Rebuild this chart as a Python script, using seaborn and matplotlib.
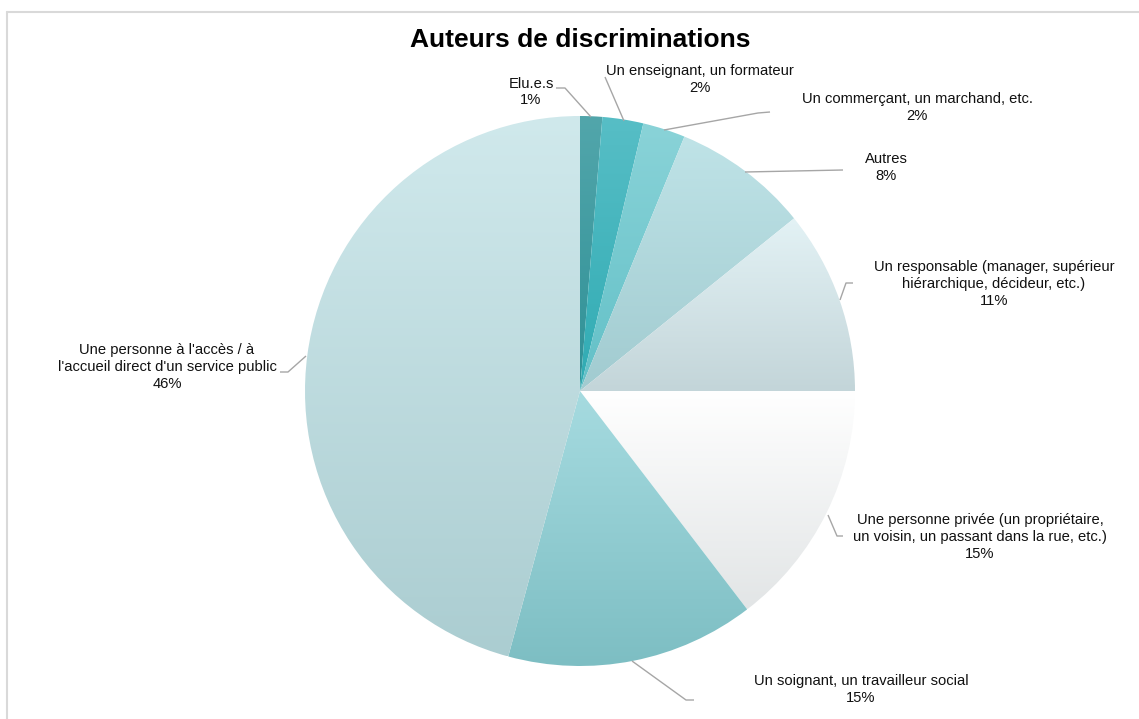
import numpy as np
import matplotlib
matplotlib.use("Agg")
import matplotlib.pyplot as plt
from matplotlib.colors import to_rgb
import seaborn as sns

sns.set_theme(style="white")
plt.rcParams["font.family"] = ["Liberation Sans", "DejaVu Sans"]

# Who committed the discrimination (share of answers, %)
categories = [
    "Elu.e.s",
    "Un enseignant, un formateur",
    "Un commerçant, un marchand, etc.",
    "Autres",
    "Un responsable (manager, supérieur\nhiérarchique, décideur, etc.)",
    "Une personne privée (un propriétaire,\nun voisin, un passant dans la rue, etc.)",
    "Un soignant, un travailleur social",
    "Une personne à l'accès / à\nl'accueil direct d'un service public",
]
shares = [1.3, 2.4, 2.5, 8.0, 10.8, 14.6, 14.6, 45.8]

# vertical gradient of each slice: (top colour, bottom colour)
top_colors = ["#52a6ab", "#57bec6", "#8ad3d8", "#bfe3e7",
              "#e3f2f5", "#ffffff", "#a6dbe0", "#d0e9ec"]
bottom_colors = ["#2f9096", "#30abb3", "#62c0c7", "#a1cbd0",
                 "#c3d5d9", "#e2e5e6", "#7dbec3", "#abcdd1"]

W, H = 1139, 719
fig = plt.figure(figsize=(W / 100, H / 100), dpi=100)
ax = fig.add_axes([0, 0, 1, 1])


def py(y):
    """Convert a top-down pixel row to the upward data axis."""
    return H - y


center = (580, py(391))
radius = 275

wedges, _ = ax.pie(shares, startangle=90, counterclock=False,
                   center=center, radius=radius,
                   wedgeprops=dict(linewidth=0, edgecolor="none"))

# paint each wedge with its own top-to-bottom gradient
for w, ct, cb in zip(wedges, top_colors, bottom_colors):
    w.set_facecolor("none")
    ext = w.get_path().get_extents(w.get_patch_transform())
    t = np.linspace(0, 1, 256)[:, None]
    grad = (1 - t) * np.array(to_rgb(cb)) + t * np.array(to_rgb(ct))
    img = ax.imshow(grad[:, None, :], origin="lower", aspect="auto",
                    extent=(ext.x0, ext.x1, ext.y0, ext.y1),
                    interpolation="bilinear", zorder=1)
    img.set_clip_path(w)

# label anchors (x, centre of text block) and leader lines
label_pos = [(531, 92), (700, 79.5), (917, 107.5), (886, 167.5),
             (994, 284), (980, 537), (861, 689.5), (167, 367)]
leaders = [
    [(556, 88), (565, 88), (591, 117)],
    [(605, 77), (624, 121)],
    [(770, 112), (758, 113), (664, 130)],
    [(843, 170), (745, 172)],
    [(853, 283), (846, 283), (840, 300)],
    [(843, 536), (837, 536), (828, 515)],
    [(694, 700), (686, 700), (632, 661)],
    [(280, 372), (288, 372), (306, 356)],
]

for name, val, (lx, ly), pts in zip(categories, shares, label_pos, leaders):
    ax.text(lx, py(ly), f"{name}\n{val:.0f}%", ha="center", va="center",
            multialignment="center", fontsize=10.6, color="#111111",
            linespacing=1.25, zorder=3)
    xs = [p[0] for p in pts]
    ys = [py(p[1]) for p in pts]
    ax.plot(xs, ys, color="#a6a6a6", lw=1.0, zorder=2,
            solid_capstyle="butt")

ax.text(580, py(40), "Auteurs de discriminations", ha="center", va="center",
        fontsize=19, fontweight="bold", color="black")

# chart frame (top and left edges)
ax.plot([7, W], [py(11.5), py(11.5)], color="#d9d9d9", lw=1.5)
ax.plot([7, 7], [py(11.5), 0], color="#d9d9d9", lw=1.5)

ax.set_xlim(0, W)
ax.set_ylim(0, H)
ax.set_aspect("auto")
ax.axis("off")

fig.savefig("out.png", dpi=100)
